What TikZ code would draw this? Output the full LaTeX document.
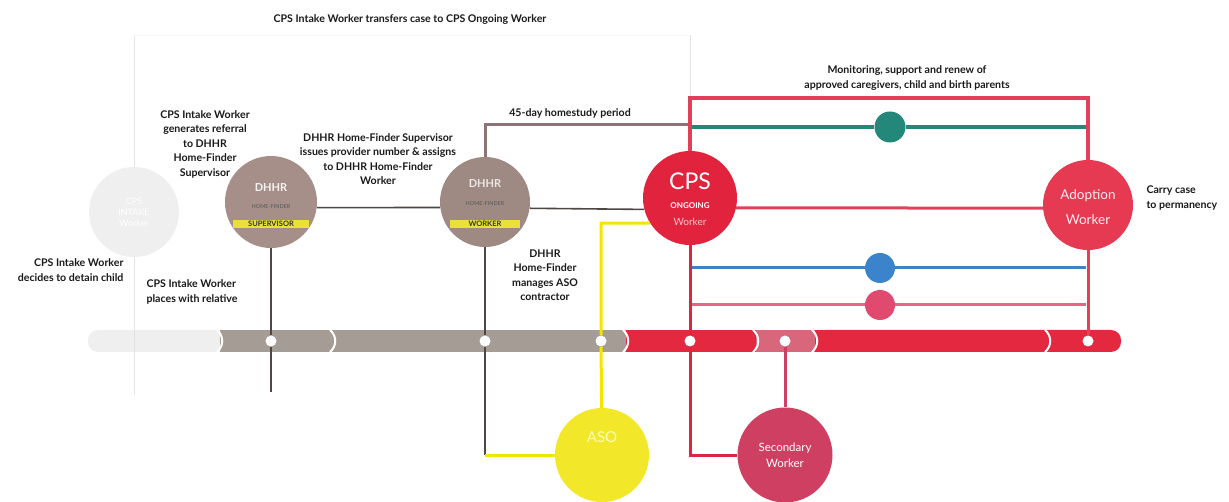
\documentclass[tikz,border=0pt]{standalone}
\usepackage{fontspec}
\setmainfont{Lato}

\definecolor{cpsred}{HTML}{E2233D}
\definecolor{adoptred}{HTML}{E53A52}
\definecolor{secred}{HTML}{CF3F62}
\definecolor{asoyellow}{HTML}{F2E829}
\definecolor{supbrown}{HTML}{A58F88}
\definecolor{wrkbrown}{HTML}{9E8A82}
\definecolor{intakegrey}{HTML}{EFEFEF}
\definecolor{trackgrey}{HTML}{A59C95}
\definecolor{trackred}{HTML}{E3283F}
\definecolor{trackpink}{HTML}{D8677C}
\definecolor{loopred}{HTML}{E2405A}
\definecolor{tealc}{HTML}{23877A}
\definecolor{bluec}{HTML}{3B84CC}
\definecolor{pinkc}{HTML}{E04A6E}
\definecolor{hsline}{HTML}{8E7376}
\definecolor{linedark}{HTML}{4F4646}
\definecolor{yellowline}{HTML}{F4E500}
\definecolor{bandyellow}{HTML}{E9E13A}

\begin{document}
\begin{tikzpicture}[x=1pt, y=-1pt,
    hub/.style={circle, inner sep=0pt, text=white, align=center},
    dot/.style={circle, fill=white, inner sep=0pt, minimum size=11pt},
    lbl/.style={font=\bfseries\fontsize{10.6}{14.5}\selectfont, align=center, text=black!90},
    band/.style={fill=bandyellow, inner sep=1.5pt, minimum width=76pt, font=\bfseries\fontsize{7.5}{8}\selectfont, text=black!80},
    tiny/.style={font=\fontsize{5.5}{6}\selectfont, text=black!65},
    darkline/.style={line width=2.5pt, draw=linedark},
    thinline/.style={line width=1.6pt, draw=linedark},
    faintline/.style={line width=1pt, draw=gray!22},
    redline/.style={line width=3pt, draw=loopred},
    yline/.style={line width=3pt, draw=yellowline},
    sep/.style={draw=white, line width=2pt}
]
\useasboundingbox (0,0) rectangle (1229,502);

% track
\fill[intakegrey, rounded corners=10pt] (88,330) rectangle (230,352);
\fill[trackgrey] (220,330) rectangle (626,352);
\fill[trackred] (626,330) rectangle (756,352);
\fill[trackpink] (756,330) rectangle (815,352);
\fill[trackred, rounded corners=10pt] (815,330) rectangle (1121,352);
\fill[trackred] (815,330) rectangle (1100,352);
\foreach \x in {220,333,626,756,815,1048}
  \draw[sep] (\x-3,330) .. controls (\x+4,336) and (\x+4,346) .. (\x-3,352);

% stations
\node[hub, minimum size=90pt, fill=intakegrey, text=white,
      font=\fontsize{9}{11}\selectfont] (intake) at (134,212) {CPS\\INTAKE\\Worker};
\node[hub, minimum size=92pt, fill=supbrown] (sup) at (271,202) {};
\node[hub, minimum size=90pt, fill=wrkbrown] (wrk) at (485,202) {};
\node[hub, minimum size=94pt, fill=cpsred] (cps) at (690,198) {};
\node[hub, minimum size=90pt, fill=adoptred] (adopt) at (1088,205) {};
\node[hub, minimum size=95pt, fill=secred,
      font=\fontsize{11.5}{16}\selectfont] (sec) at (785,455) {Secondary\\Worker};
\node[hub, minimum size=94pt, fill=asoyellow, text=yellow!25!white,
      font=\fontsize{15}{17}\selectfont] (aso) at (602,455) {ASO\\[18pt]};

% station texts
\node[text=white!90!supbrown, font=\bfseries\fontsize{11}{12}\selectfont] (suptitle) at (271,188) {DHHR};
\node[tiny] (supsub) at (271,207) {HOME-FINDER};
\node[band] (supband) at (271,224) {SUPERVISOR};
\node[text=white!80!wrkbrown, font=\bfseries\fontsize{11}{12}\selectfont] (wrktitle) at (485,184) {DHHR};
\node[tiny] (wrksub) at (485,204) {HOME-FINDER};
\node[band, minimum width=70pt] (wrkband) at (485,224) {WORKER};
\node[text=white, font=\fontsize{23}{24}\selectfont] (cpstitle) at (690,181) {CPS};
\node[text=white, font=\bfseries\fontsize{8}{9}\selectfont] (cpssub) at (690,206) {ONGOING};
\node[text=white!75!cpsred, font=\fontsize{10}{11}\selectfont] (cpsbot) at (690,222) {Worker};
\node[text=white!92!adoptred, font=\fontsize{13.5}{25}\selectfont, align=center] (adopttext) at (1088,207) {Adoption\\Worker};

% small stops
\node[hub, minimum size=31pt, fill=tealc] (teal) at (890,127) {};
\node[hub, minimum size=30pt, fill=bluec] (blue) at (880,268) {};
\node[hub, minimum size=30pt, fill=pinkc] (pink) at (880,305) {};

% dots on the track
\node[dot] (d1) at (271,341) {};
\node[dot] (d2) at (485,341) {};
\node[dot] (d3) at (601,341) {};
\node[dot] (d4) at (690,341) {};
\node[dot] (d5) at (785,341) {};
\node[dot] (d6) at (1088,341) {};

% corners and ends
\coordinate (it1) at (134,35);
\coordinate (it2) at (690,35);
\coordinate (intend) at (134,395);
\coordinate (supend) at (271,392);
\coordinate (hs1) at (485,125);
\coordinate (hs2) at (690,125);
\coordinate (lpl) at (690,98);
\coordinate (lpr) at (1088,98);
\coordinate (tl) at (692,127);
\coordinate (tr) at (1086,127);
\coordinate (bl) at (692,268);
\coordinate (br) at (1086,268);
\coordinate (pl) at (692,305);
\coordinate (pr) at (1086,305);
\coordinate (wcorner) at (485,455);
\coordinate (ccorner) at (690,455);
\coordinate (ycorner) at (cps.212 -| d3);

% intake lines
\draw[faintline] (intake) -- (it1);
\draw[line width=0.8pt, draw=gray!7] (it1) -- (it2);
\draw[faintline] (it2) -- (lpl);
\draw[faintline] (intake) -- (intend);

% dhhr lines
\draw[darkline] (sup) -- (d1) -- (supend);
\draw[thinline] (sup.-7) -- (wrk.187);
\draw[thinline] (wrk.-8) -- (cps.194);
\draw[line width=3pt, draw=hsline] (wrk) -- (hs1) -- (hs2);
\draw[darkline] (wrk) -- (d2) -- (wcorner);
\draw[yline] (wcorner) -- (aso);
\draw[yline] (aso) -- (d3) -- (ycorner) -- (cps.212);

% cps lines
\draw[redline, line width=3.5pt] (cps) -- (lpl) -- (lpr) -- (adopt);
\draw[line width=4.5pt, draw=tealc] (tl) -- (teal) -- (tr);
\draw[redline] (cps.-12) -- (adopt.184);
\draw[line width=3pt, draw=bluec] (bl) -- (blue) -- (br);
\draw[line width=3pt, draw=pinkc!85!white] (pl) -- (pink) -- (pr);
\draw[redline, draw=cpsred] (cps) -- (d4) -- (ccorner) -- (sec);
\draw[line width=3pt, draw=secred] (d5) -- (sec);
\draw[redline] (adopt) -- (d6);

% labels
\node[lbl] (ltop) at (410,20) {CPS Intake Worker transfers case to CPS Ongoing Worker};
\node[lbl] (lref) at (205,144) {CPS Intake Worker\\generates referral\\to DHHR\\Home-Finder\\Supervisor};
\node[lbl] (lissue) at (378,159) {DHHR Home-Finder Supervisor\\issues provider number \& assigns\\to DHHR Home-Finder\\Worker};
\node[lbl] (lhome) at (570,113) {45-day homestudy period};
\node[lbl, align=right, anchor=east] (ldetain) at (127,270) {CPS Intake Worker\\decides to detain child};
\node[lbl, align=left, anchor=west] (lplace) at (143,292) {CPS Intake Worker\\places with relative};
\node[lbl] (lmanage) at (545,275) {DHHR\\Home-Finder\\manages ASO\\contractor};
\node[lbl] (lmon) at (907,78) {Monitoring, support and renew of\\approved caregivers, child and birth parents};
\node[lbl, align=left, anchor=west] (lcarry) at (1143,198) {Carry case\\to permanency};

\end{tikzpicture}
\end{document}
